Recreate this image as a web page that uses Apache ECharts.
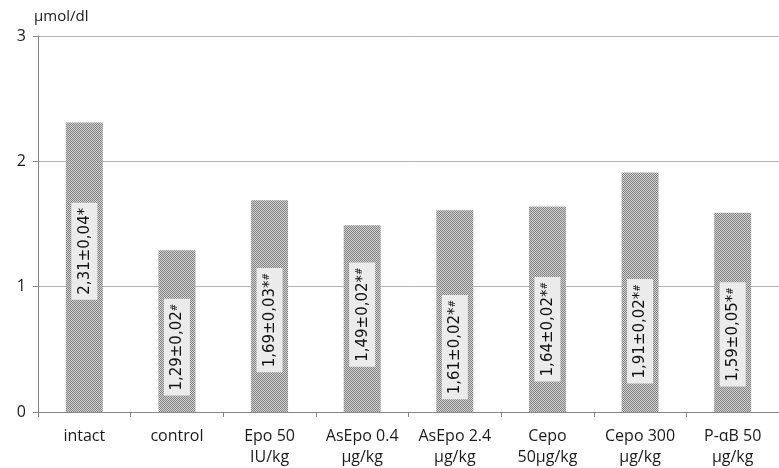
<!DOCTYPE html>
<html>
<head>
<meta charset="utf-8">
<script src="https://cdn.jsdelivr.net/npm/echarts@6/dist/echarts.min.js"></script>
<style>
html,body{margin:0;padding:0;background:#fff;}
#chart{width:779px;height:468px;}
</style>
</head>
<body>
<div id="chart"></div>
<script>
// categories (two lines each)
var categories = ['intact', 'control', 'Epo 50\nIU/kg', 'AsEpo 0.4\nµg/kg', 'AsEpo 2.4\nµg/kg', 'Cepo\n50µg/kg', 'Cepo 300\nµg/kg', 'P-αB 50\nµg/kg'];
// mean values, µmol/dl
var values = [2.31, 1.29, 1.69, 1.49, 1.61, 1.64, 1.91, 1.59];
// label texts: value±error, then marks
var labelMain = ['2,31±0,04', '1,29±0,02', '1,69±0,03', '1,49±0,02', '1,61±0,02', '1,64±0,02', '1,91±0,02', '1,59±0,05'];
var labelStar = ['*', '', '*', '*', '*', '*', '*', '*'];
var labelHash = ['', '#', '#', '#', '#', '#', '#', '#'];
// vertical shift of each label from bar centre (labels were placed by hand)
var labelShift = [-16, 16, 14, -4, 36, 20, 39, 22];

// dotted fill like the excel pattern
function makePattern(dark, light)
{
	var c = document.createElement('canvas');
	c.width = 2;
	c.height = 2;
	var ctx = c.getContext('2d');
	ctx.fillStyle = light;
	ctx.fillRect(0, 0, 2, 2);
	ctx.fillStyle = dark;
	ctx.fillRect(0, 0, 1, 1);
	ctx.fillRect(1, 1, 1, 1);
	return {image: c, repeat: 'repeat'};
}
var barFill = makePattern('#828282', '#d2d2d2');

var fontName = '"Open Sans", sans-serif';
var labelFont = '"DejaVu Sans", sans-serif';
var data = [];
for (var i = 0; i < values.length; i++)
{
	//label is rotated 90deg, so its local x runs upward on screen
	data.push({
		value: values[i],
		label: {offset: [-labelShift[i], 0]}
	});
}

var myChart = echarts.init(document.getElementById('chart'));
var option = {
	backgroundColor: '#fff',
	animation: false,
	grid: {left: 38, top: 36, width: 751, height: 377, containLabel: false},
	xAxis: {
		type: 'category',
		data: categories,
		axisLine: {lineStyle: {color: '#868686', width: 1}},
		axisTick: {show: true, length: 5, lineStyle: {color: '#868686'}},
		axisLabel: {color: '#1a1a1a', fontSize: 16, fontFamily: fontName, margin: 14, lineHeight: 21, interval: 0}
	},
	yAxis: {
		type: 'value',
		min: 0,
		max: 3,
		interval: 1,
		name: 'µmol/dl',
		nameLocation: 'end',
		nameGap: 12,
		nameTextStyle: {color: '#1a1a1a', fontSize: 15, fontFamily: fontName, align: 'left', padding: [0, 0, 0, -4]},
		axisLine: {show: true, lineStyle: {color: '#868686'}},
		axisTick: {show: true, length: 5, lineStyle: {color: '#868686'}},
		axisLabel: {color: '#1a1a1a', fontSize: 16, fontFamily: fontName, margin: 12},
		splitLine: {lineStyle: {color: '#b4b4b4'}}
	},
	series: [{
		type: 'bar',
		data: data,
		barWidth: 37,
		itemStyle: {color: barFill},
		label: {
			show: true,
			position: 'inside',
			rotate: 90,
			formatter: function (p) {
				var i = p.dataIndex;
				return labelMain[i] + labelStar[i] + (labelHash[i] ? '{sup|' + labelHash[i] + '}' : '');
			},
			color: '#111',
			fontSize: 15,
			fontFamily: labelFont,
			backgroundColor: '#ebebeb',
			padding: [6, 5, 5, 5],
			rich: {
				sup: {fontSize: 9, fontFamily: labelFont, verticalAlign: 'top', color: '#111', padding: [0, 0, 6, 0]}
			}
		}
	}]
};
myChart.setOption(option);
</script>
</body>
</html>
